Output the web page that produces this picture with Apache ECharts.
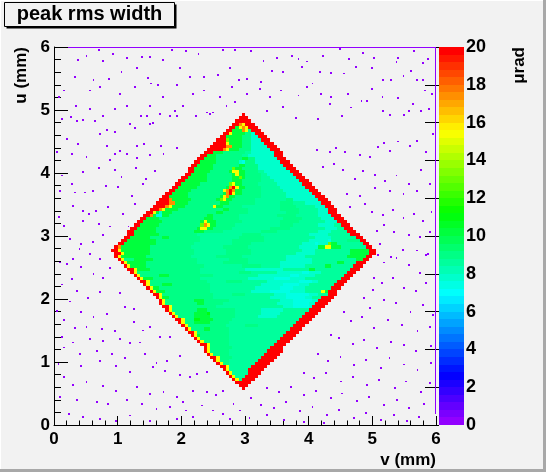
<!DOCTYPE html>
<html>
<head>
<meta charset="utf-8">
<script src="https://cdn.jsdelivr.net/npm/echarts@6/dist/echarts.min.js"></script>
<style>
  html, body { margin: 0; padding: 0; background: #f2f2f2; }
  #chart { width: 546px; height: 472px; }
</style>
</head>
<body>
<div id="chart"></div>
<script>
// 2D histogram, 0.05 mm bins. Each row: first filled v-bin, then runs of <level><count>.
const binSize = 0.05;
const firstRow = 11;
const rows = [
  "59 r1", "58 r3", "57 r5", "56 r1 y1 a1 r4", "55 r1 y1 b3 r4", "54 r1 y1 b5 r4",
  "53 r1 y1 b6 r5", "52 r2 y1 b7 r5", "51 r1 y1 a2 b8 r5", "50 r1 y1 a3 b9 r5",
  "49 r2 y1 a4 b9 r5", "48 r1 y1 a5 b11 r5", "47 r1 y1 a6 b12 r5", "47 r1 y1 a7 b12 r4",
  "46 r2 y1 a6 b14 r4", "45 r1 y1 a8 b15 r4", "44 r1 y1 a9 b16 r4", "43 r1 y1 g1 a9 b17 r4",
  "42 r2 y1 a10 b18 r4", "41 r1 y1 a4 g2 a6 b19 r4", "40 r1 y1 a12 b6 a4 b11 r4",
  "39 r1 y1 a3 g5 a6 b21 r4", "38 r2 y1 a3 G2 g4 a6 b21 r4", "37 r1 y1 a5 g5 a8 b7 c6 b8 r4",
  "36 r1 y1 a6 g4 G1 a8 b8 c6 b8 r4", "35 r1 y1 a8 g3 a9 b8 c7 b8 r4",
  "34 r2 y1 a14 b21 c3 C5 c1 r4", "33 r1 y1 a10 g2 a6 b17 c5 C5 c2 r4",
  "33 r1 y1 a9 g3 a8 b16 c4 C6 c2 r4", "32 r1 y1 g2 a14 b18 c5 C6 c2 b3 r4",
  "31 r2 y1 a16 b6 a4 b9 c4 C7 c3 b3 r3", "30 r1 y1 g3 a14 b13 c6 C6 c5 b5 y1 g1 r3",
  "29 r1 y1 g2 a16 b14 c8 C4 c4 b8 r3", "28 r1 y1 a4 g3 a12 b16 c7 C5 c3 b8 r3",
  "27 r2 y1 a18 b6 a5 b8 c10 C4 c2 b6 r3", "26 r1 y1 g3 a15 b15 c8 C5 c5 b11 r3",
  "25 r1 y1 a6 g3 a14 b14 c10 C3 c5 b9 r3", "24 r1 y1 a20 b12 a4 b8 c8 C2 c4 b8 r3",
  "23 r2 y1 g4 a16 b14 c12 b8 g2 b11 r3", "22 r1 y1 g5 a18 b12 a6 b6 c8 b6 g2 b7 r3",
  "21 r1 y1 g6 a16 b8 a8 b10 c10 b8 g2 b4 r3", "20 r1 y1 a3 g6 a14 b10 a6 b12 c8 b14 g2 r2",
  "19 r1 y1 g8 a14 b8 a8 b14 c6 b13 g6 r2", "19 r2 y1 g8 a14 b10 a8 b14 c6 b11 g6 r2",
  "18 r2 y1 g9 a14 b10 a8 b16 c4 b11 g6 r2", "19 r1 o1 g9 a13 b10 a8 b16 c6 g2 y2 g3 b8 r2",
  "20 r2 g10 a12 b12 a6 b16 c4 C1 c3 l1 g2 b8 r2", "21 r2 g9 a14 b10 a10 b14 c6 C1 b5 a4 r2",
  "22 r2 g6 a4 g2 a10 b12 a8 b16 c5 b8 r2", "23 r2 g8 a12 b14 a6 b15 c6 b7 r3",
  "23 r2 g7 a12 g3 a6 b12 a5 b13 c4 b5 r3", "24 r2 g6 a13 g1 y2 g2 a6 b12 a6 b11 c4 b2 r3",
  "25 r2 g6 a13 l1 o1 y1 g2 a6 b14 a4 b8 c5 b2 r3", "26 r2 g6 a12 g1 y1 g3 a8 b12 a6 b8 c4 r3",
  "27 r2 g4 a14 g3 a8 b14 a6 b6 c4 r3", "28 r2 o1 g1 C2 g2 a12 g2 a8 b12 a6 b7 c4 r3",
  "29 r2 y1 g1 c1 g3 a14 g2 a8 b12 a4 b6 c3 r3", "30 r3 o1 y1 g4 a14 g2 a6 b10 a6 b6 c3 r3",
  "31 r4 o1 y1 g4 a9 y1 g2 a6 b12 a5 b6 c3 r3", "32 r4 o2 g4 a10 g3 a8 b8 a4 b4 c5 r3",
  "33 r3 o1 g6 a8 g1 l1 y1 g2 a7 b10 a2 c8 r3", "34 r2 g6 a10 g1 y1 o1 g2 a8 b8 c8 C1 r3",
  "35 r2 g5 a11 g1 o1 r1 y1 g2 a6 b8 c8 r3", "36 r2 g5 a10 y1 o1 r1 o1 g2 a6 b7 c8 r3",
  "37 r2 g6 a9 g1 o1 r1 y1 g2 a5 b6 c8 r3", "38 r2 g6 a9 l1 y1 g2 a5 b6 c8 r3",
  "39 r2 g7 a8 g3 a6 b4 c8 r3", "40 r2 g6 a8 g2 l1 g1 a5 b3 c8 r3",
  "41 r2 g5 a8 g1 y1 g2 a5 b2 c8 r3", "42 r2 g5 a6 g1 y2 g2 a4 b2 c8 r3",
  "42 r2 g6 a6 l1 g2 a5 c9 r3", "43 r2 g5 a8 g2 a4 c8 r3", "44 r2 g5 a7 c1 C1 a3 c8 r3",
  "45 r2 g4 a8 g2 a2 c7 r3", "46 r2 g3 a8 b2 c8 r3", "47 r3 g3 a7 b2 c7 r3",
  "48 r5 o1 y1 g3 a4 c6 r3", "49 r5 o2 g3 a3 c5 r3", "50 r4 y1 g4 a3 c4 r3",
  "51 r3 l1 g4 a3 c3 r3", "52 r2 g5 a3 c2 r3", "53 r2 y1 g4 a2 c1 r3",
  "54 r2 g3 o1 y1 a1 r3", "55 r2 g1 y1 o1 y1 r3", "56 r2 o1 y1 r3", "57 r5", "58 r3", "59 r1"
];
// value (µrad) of each run letter
const levels = { r: 19.9, o: 17.4, y: 15.4, l: 12.8, G: 11.2, g: 10.2, a: 9.2, b: 8.6, c: 7.9, C: 7.3 };

// isolated low hits outside the crystal, [v, u] in mm
const hitLevel = 0.2;
const hits = [
  [0.38,5.80],[0.51,5.86],[0.71,5.95],[0.77,5.78],[0.93,5.89],[1.14,5.83],[1.38,5.84],[1.51,5.84],
  [1.71,5.80],[1.85,5.95],[2.07,5.93],[2.27,5.89],[2.66,5.95],[2.84,5.95],[3.10,5.94],[3.29,5.78],
  [3.50,5.83],[3.74,5.86],[3.84,5.81],[3.97,5.77],[4.22,5.86],[4.49,5.97],[4.64,5.81],[4.86,5.90],
  [5.03,5.83],[5.41,5.82],[5.38,5.76],[5.65,5.94],[5.79,5.74],[5.88,5.81],
  [0.33,5.52],[0.62,5.47],[0.87,5.49],[1.06,5.60],[1.31,5.67],[1.48,5.51],[1.64,5.40],[1.98,5.67],
  [2.13,5.52],[2.35,5.53],[2.57,5.56],[2.76,5.67],[2.91,5.48],[3.03,5.49],[3.25,5.44],[3.42,5.62],
  [3.60,5.60],[3.89,5.68],[4.06,5.42],[4.18,5.61],[4.35,5.59],[4.56,5.58],[4.75,5.68],[4.99,5.67],
  [5.17,5.48],[5.29,5.47],[5.49,5.54],[5.61,5.62],[5.70,5.48],[5.80,5.48],
  [0.16,5.31],[0.57,5.31],[0.72,5.37],[1.04,5.25],[1.27,5.36],[1.53,5.42],[1.71,5.21],[1.93,5.39],
  [2.19,5.25],[2.36,5.31],[2.61,5.21],[2.80,5.36],[3.03,5.25],[3.23,5.34],[3.39,5.21],[3.57,5.31],
  [3.84,5.23],[3.98,5.36],[4.20,5.25],[4.35,5.20],[4.62,5.25],[4.83,5.14],[4.99,5.33],[5.16,5.20],
  [5.41,5.19],[5.64,5.10],[5.83,5.31],[5.94,5.25],
  [0.08,5.20],[0.35,5.06],[0.57,5.01],[0.77,4.91],[0.96,5.02],[1.14,5.07],[1.36,4.91],[1.46,4.91],
  [1.51,5.07],[1.56,4.79],[1.66,4.94],[1.82,4.91],[1.90,4.99],[1.93,4.91],[2.03,5.07],[2.23,4.91],
  [2.40,4.96],[2.45,4.94],[2.50,4.96],[2.71,5.07],[2.84,5.12],[3.34,4.99],[3.60,5.05],[3.80,4.87],
  [4.15,4.86],[4.34,5.10],[4.52,4.91],[4.67,5.04],[4.91,5.14],[5.17,4.99],[5.28,4.92],[5.50,4.92],
  [5.57,4.99],[5.77,4.99],[5.89,5.02],
  [0.12,4.86],[0.26,4.89],[0.36,4.83],[0.46,4.84],[0.64,4.83],[0.83,4.68],[0.96,4.65],[1.19,4.78],
  [1.27,4.71],[1.51,4.78],[0.20,4.54],[0.38,4.46],[0.72,4.62],[0.83,4.43],[1.04,4.35],[1.31,4.43],
  [1.41,4.46],[1.68,4.43],[0.05,4.33],[0.28,4.30],[0.51,4.25],[0.88,4.20],[0.96,4.30],[1.14,4.30],
  [1.31,4.24],[1.51,4.28],[1.72,4.30],[1.93,4.40],[0.12,3.96],[0.28,3.83],[0.46,4.01],[0.70,4.08],
  [0.96,4.05],[1.06,3.93],[1.29,4.08],[1.44,3.90],[1.59,4.03],[0.09,3.72],[0.33,3.69],[0.49,3.69],
  [0.61,3.72],[0.82,3.80],[1.01,3.78],[1.22,3.64],[1.40,3.83],[0.30,3.47],[0.46,3.40],[0.55,3.35],
  [0.66,3.40],[0.85,3.46],[1.09,3.35],[1.27,3.51],[0.08,3.30],[0.15,3.16],[0.46,3.24],[0.70,3.19],
  [0.88,3.15],[1.17,3.15],[0.25,2.95],[0.43,2.87],[0.61,2.90],[0.77,3.01],[0.40,2.79],[0.57,2.72],
  [0.72,2.63],[0.30,2.63],[0.09,2.58],
  [4.13,4.37],[4.34,4.34],[4.43,4.40],[4.57,4.34],[4.81,4.28],[4.96,4.25],[5.09,4.41],[5.19,4.47],
  [5.28,4.35],[5.41,4.50],[5.59,4.43],[5.70,4.51],[5.85,4.33],[5.96,4.62],[4.23,4.09],[4.40,4.14],
  [4.54,4.05],[4.73,3.90],[4.86,4.03],[5.04,3.97],[5.20,3.88],[5.38,3.96],[5.57,3.83],[5.76,4.05],
  [5.91,3.83],[5.70,3.72],[5.49,3.66],[5.28,3.72],[5.04,3.76],[4.81,3.64],[4.60,3.67],[4.65,3.46],
  [4.88,3.51],[4.99,3.38],[5.17,3.34],[5.33,3.41],[5.49,3.29],[5.65,3.35],[5.80,3.24],[5.93,3.38],
  [5.18,3.18],[5.08,3.08],[5.34,3.07],[5.57,3.02],[5.75,2.98],[5.91,3.06],[5.70,2.77],[5.48,2.78],
  [5.29,2.66],[5.12,2.87],[5.85,2.70],
  [0.20,2.56],[0.43,2.51],[0.62,2.40],[0.77,2.33],[0.88,2.49],[0.28,2.32],[0.12,2.23],[0.36,2.13],
  [0.54,2.02],[0.72,2.11],[1.04,2.09],[0.25,1.96],[0.04,1.81],[0.43,1.80],[0.62,1.71],[0.83,1.76],
  [1.12,1.87],[1.25,1.84],[0.15,1.66],[0.33,1.54],[0.51,1.56],[0.75,1.52],[0.96,1.49],[1.25,1.63],
  [1.40,1.50],[1.51,1.56],[0.12,1.39],[0.30,1.31],[0.57,1.37],[0.77,1.34],[1.04,1.37],[1.19,1.30],
  [1.35,1.31],[1.66,1.39],[1.82,1.39],[0.16,1.23],[0.41,1.12],[0.67,1.18],[0.91,1.13],[1.12,1.07],
  [1.43,1.13],[1.61,0.99],[1.77,1.02],[1.98,1.10],[0.07,0.97],[0.43,0.93],[0.72,1.02],[0.98,0.94],
  [1.19,0.84],[1.56,0.92],[1.74,0.86],[1.98,0.80],[2.14,0.76],[2.25,0.81],[2.40,0.84],[0.15,0.76],
  [0.30,0.64],[0.51,0.68],[0.77,0.62],[0.98,0.54],[1.30,0.60],[1.51,0.49],[1.72,0.52],[1.93,0.44],
  [2.03,0.36],[2.19,0.54],[2.40,0.53],[2.55,0.47],[2.66,0.54],[0.09,0.44],[0.36,0.39],[0.67,0.36],
  [0.85,0.33],[1.14,0.40],[1.38,0.33],[1.61,0.25],[1.82,0.28],[2.08,0.23],[2.32,0.31],[2.50,0.23],
  [2.66,0.17],[2.82,0.33],[2.92,0.23],[0.23,0.17],[0.46,0.12],[0.72,0.10],[0.98,0.07],[1.19,0.15],
  [1.51,0.07],[1.93,0.10],[2.19,0.12],[2.76,0.10],
  [5.09,2.70],[5.19,2.58],[5.38,2.65],[5.58,2.54],[5.75,2.41],[5.88,2.72],[5.03,2.33],[5.15,2.25],
  [5.32,2.33],[5.50,2.17],[5.68,2.12],[5.84,2.25],[5.01,2.14],[4.87,2.02],[4.97,1.86],[5.19,1.98],
  [5.37,1.93],[5.60,1.80],[5.79,1.91],[5.95,1.75],[4.55,1.80],[4.66,1.65],[4.84,1.72],[5.03,1.54],
  [5.24,1.67],[5.47,1.59],[5.71,1.49],[5.90,1.56],[4.35,1.43],[4.48,1.38],[4.69,1.28],[4.87,1.35],
  [5.08,1.22],[5.29,1.32],[5.50,1.27],[5.69,1.17],[5.92,1.25],[4.14,1.12],[4.30,1.01],[4.50,1.08],
  [4.71,0.95],[4.90,1.03],[5.13,0.90],[5.27,1.06],[5.50,0.96],[5.71,0.87],[5.92,0.98],[3.93,0.83],
  [4.08,0.75],[4.27,0.82],[4.51,0.69],[4.69,0.76],[4.92,0.64],[5.11,0.71],[5.35,0.59],[5.53,0.69],
  [5.76,0.53],[5.90,0.66],[3.35,0.59],[3.54,0.53],[3.72,0.61],[3.93,0.48],[4.12,0.54],[4.35,0.43],
  [4.53,0.50],[4.76,0.38],[4.95,0.45],[5.18,0.32],[5.39,0.40],[5.58,0.27],[5.81,0.34],[3.09,0.43],
  [3.25,0.32],[3.46,0.27],[3.64,0.37],[3.87,0.22],[4.06,0.29],[4.29,0.16],[4.48,0.24],[4.71,0.11],
  [4.90,0.19],[5.13,0.08],[5.34,0.16],[5.55,0.06],[5.74,0.13],[3.07,0.11],[3.35,0.16],[3.61,0.08],
  [3.93,0.05],[4.24,0.03]
];
// thin filled last row / last column of the histogram: [v0, v1, u0, u1, value]
const edgeStrips = [[0.22, 6, 5.985, 6, 0.2], [5.985, 6, 0.17, 6, 0.2]];

const vTicks = [0, 1, 2, 3, 4, 5, 6];
const zMin = 0, zMax = 20, nColors = 50;

// ROOT "pretty" palette: violet -> red
const palette = [];
for (let i = 0; i < nColors; i++) {
  const hue = 280 - (i + 1) * 280 / nColors;
  palette.push(`hsl(${hue}, 100%, 50%)`);
}
const pieces = palette.map((color, i) => {
  const lo = zMin + i * (zMax - zMin) / nColors;
  const piece = { gte: lo, color };
  if (i < nColors - 1) piece.lt = lo + (zMax - zMin) / nColors;
  return piece;
});

const cells = [];
rows.forEach((row, k) => {
  const parts = row.split(' ');
  let col = +parts[0];
  const u0 = (firstRow + k) * binSize;
  parts.slice(1).forEach(run => {
    const n = +run.slice(1);
    cells.push([col * binSize, (col + n) * binSize, u0, u0 + binSize, levels[run[0]]]);
    col += n;
  });
});
edgeStrips.forEach(s => cells.push(s));

const hitHalf = 0.015;
const hitCells = hits.map(([v, u]) => [v - hitHalf, v + hitHalf, u - hitHalf, u + hitHalf, hitLevel]);

const bandCells = pieces.map((p, i) => {
  const lo = zMin + i * (zMax - zMin) / nColors;
  const hi = lo + (zMax - zMin) / nColors;
  return [0, 1, lo, hi, (lo + hi) / 2];
});

function renderCell(params, api) {
  const a = api.coord([api.value(0), api.value(3)]);
  const b = api.coord([api.value(1), api.value(2)]);
  const x = Math.round(a[0]);
  const y = Math.round(a[1]);
  return {
    type: 'rect',
    shape: { x, y, width: Math.max(1, Math.round(b[0]) - x), height: Math.max(1, Math.round(b[1]) - y) },
    style: { fill: api.visual('color') }
  };
}

const font = 'Liberation Sans';
const labelStyle = { color: '#000', fontFamily: font, fontWeight: 'bold', fontSize: 17 };
const black = { color: '#000', width: 1 };

const chart = echarts.init(document.getElementById('chart'), null, { renderer: 'canvas' });
chart.setOption({
  animation: false,
  backgroundColor: '#f2f2f2',
  grid: [
    { left: 54, top: 47, width: 382, height: 378, outerBoundsMode: 'none' },
    { left: 439, top: 47, width: 25, height: 378, outerBoundsMode: 'none' }
  ],
  xAxis: [
    {
      gridIndex: 0, type: 'value', min: 0, max: 6, interval: 1,
      axisLine: { show: true, onZero: false, lineStyle: black },
      axisTick: { show: true, inside: true, length: 9, lineStyle: black },
      minorTick: { show: true, splitNumber: 5, length: 4.5, lineStyle: black },
      axisLabel: { ...labelStyle, margin: 6, showMinLabel: true, showMaxLabel: true,
        formatter: v => vTicks.includes(v) ? String(v) : '' },
      splitLine: { show: false }, minorSplitLine: { show: false }
    },
    { gridIndex: 1, type: 'value', min: 0, max: 1, show: false }
  ],
  yAxis: [
    {
      gridIndex: 0, type: 'value', min: 0, max: 6, interval: 1,
      axisLine: { show: true, onZero: false, lineStyle: black },
      axisTick: { show: true, inside: true, length: 14, lineStyle: black },
      minorTick: { show: true, splitNumber: 5, length: 7, lineStyle: black },
      axisLabel: { ...labelStyle, margin: 4, showMinLabel: true, showMaxLabel: true },
      splitLine: { show: false }, minorSplitLine: { show: false }
    },
    {
      gridIndex: 1, type: 'value', min: zMin, max: zMax, interval: 2, position: 'right',
      axisLine: { show: false },
      axisTick: { show: true, inside: true, length: 14, lineStyle: black },
      axisLabel: { ...labelStyle, fontSize: 18, margin: 2, showMinLabel: true, showMaxLabel: true },
      splitLine: { show: false }
    }
  ],
  visualMap: {
    type: 'piecewise', show: false, dimension: 4,
    seriesIndex: [0, 1, 2], pieces
  },
  series: [
    {
      type: 'custom', name: 'peak rms width', xAxisIndex: 0, yAxisIndex: 0,
      dimensions: ['v0', 'v1', 'u0', 'u1', 'z'], encode: { x: [0, 1], y: [2, 3] },
      renderItem: renderCell, data: cells, clip: true, silent: true
    },
    {
      type: 'custom', name: 'hits', xAxisIndex: 0, yAxisIndex: 0,
      dimensions: ['v0', 'v1', 'u0', 'u1', 'z'], encode: { x: [0, 1], y: [2, 3] },
      renderItem: renderCell, data: hitCells, clip: true, silent: true
    },
    {
      type: 'custom', name: 'palette', xAxisIndex: 1, yAxisIndex: 1,
      dimensions: ['x0', 'x1', 'z0', 'z1', 'z'], encode: { x: [0, 1], y: [2, 3] },
      renderItem: renderCell, data: bandCells, silent: true
    }
  ],
  graphic: [
    { type: 'rect', shape: { x: 0, y: 0, width: 546, height: 1 }, style: { fill: '#ffffff' }, silent: true },
    { type: 'rect', shape: { x: 0, y: 0, width: 1, height: 472 }, style: { fill: '#ffffff' }, silent: true },
    { type: 'rect', shape: { x: 543, y: 0, width: 3, height: 472 }, style: { fill: '#a8a8a8' }, silent: true },
    { type: 'rect', shape: { x: 0, y: 469, width: 546, height: 3 }, style: { fill: '#a8a8a8' }, silent: true },
    { type: 'rect', shape: { x: 6.5, y: 4.5, width: 170, height: 24 }, style: { fill: '#000' }, silent: true },
    { type: 'rect', shape: { x: 4.5, y: 2.5, width: 170, height: 24 },
      style: { fill: '#f2f2f2', stroke: '#000', lineWidth: 1 }, silent: true },
    { type: 'text', x: 89.5, y: 14, silent: true,
      style: { text: 'peak rms width', fill: '#000', font: `bold 20px "${font}"`, align: 'center', verticalAlign: 'middle' } },
    { type: 'text', x: 436, y: 460, silent: true,
      style: { text: 'v (mm)', fill: '#000', font: `bold 17px "${font}"`, align: 'right', verticalAlign: 'middle' } },
    { type: 'text', x: 21, y: 47, rotation: Math.PI / 2, silent: true,
      style: { text: 'u (mm)', fill: '#000', font: `bold 17px "${font}"`, align: 'right', verticalAlign: 'middle' } },
    { type: 'text', x: 519, y: 47, rotation: Math.PI / 2, silent: true,
      style: { text: 'μrad', fill: '#000', font: `bold 17px "${font}"`, align: 'right', verticalAlign: 'middle' } }
  ]
});
</script>
</body>
</html>
